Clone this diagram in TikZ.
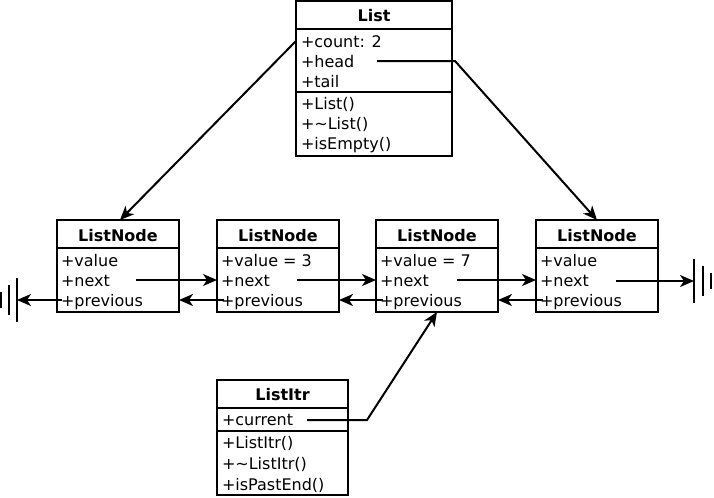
\documentclass[tikz,border=0pt]{standalone}
\usepackage{fontspec}
\setmainfont{DejaVu Sans}
\usetikzlibrary{arrows.meta}
\begin{document}
\begin{tikzpicture}[x=0.75pt,y=-0.75pt,line width=1.5pt,
  >={Stealth[length=10.5pt,width=9pt,inset=3pt]},
  umlbox/.style={draw,anchor=north west,inner sep=0pt,outer sep=0pt},
  txt/.style={anchor=base west,inner sep=0pt,font=\fontsize{12}{14}\selectfont},
  ttl/.style={anchor=base,inner sep=0pt,font=\fontsize{12}{14}\selectfont\bfseries}]
\useasboundingbox (0,0) rectangle (714,497);

% List class
\node[umlbox,minimum width=156*0.75pt,minimum height=155*0.75pt] (List) at (296,1) {};
\draw (296,29) -- (452,29);
\draw (296,92) -- (452,92);
\node[ttl] (Lt) at (374,21) {List};
\node[txt] (Lcount) at (300,47) {+count: 2};
\node[txt] (Lhead) at (300,67) {+head};
\node[txt] (Ltail) at (300,87) {+tail};
\node[txt] (Lm1) at (300,109) {+List()};
\node[txt] (Lm2) at (300,129) {+\textasciitilde List()};
\node[txt] (Lm3) at (300,149) {+isEmpty()};

% ListNode classes
\foreach \i/\x/\v in {1/57/{+value},2/217/{+value = 3},3/376/{+value = 7},4/536/{+value}}{
  \node[umlbox,minimum width=122*0.75pt,minimum height=92*0.75pt] (n\i) at (\x,220) {};
  \draw (\x,248) -- ++(122,0);
  \node[ttl] (n\i-t) at (\x+61,241) {ListNode};
  \node[txt] (n\i-v) at (\x+3,266) {\v};
  \node[txt] (n\i-n) at (\x+3,286) {+next};
  \node[txt] (n\i-p) at (\x+3,306) {+previous};
}

% ListItr class
\node[umlbox,minimum width=131*0.75pt,minimum height=115*0.75pt] (It) at (217,380) {};
\draw (217,408) -- (348,408);
\draw (217,431) -- (348,431);
\node[ttl] (It-t) at (282.5,400) {ListItr};
\node[txt] (It-c) at (221,425) {+current};
\node[txt] (It-m1) at (221,448) {+ListItr()};
\node[txt] (It-m2) at (221,469) {+\textasciitilde ListItr()};
\node[txt] (It-m3) at (221,490) {+isPastEnd()};

% connector start points
\coordinate (Ls) at (296,41);
\coordinate (Hs) at (377,61);
\coordinate (Hb) at (455,61);
\coordinate (Cs) at (307,420);
\coordinate (Cb) at (367,420);
\coordinate (n1ns) at (136,280);
\coordinate (n2ns) at (297,280);
\coordinate (n3ns) at (457,280);
\coordinate (n4ns) at (616,281);
\coordinate (n1ps) at (62,300);
\coordinate (n2ps) at (224,300);
\coordinate (n3ps) at (383,300);
\coordinate (n4ps) at (543,300);
\coordinate (gL) at (17,300);
\coordinate (gR) at (694,281);

% connectors
\draw[->] (Ls) -- ([xshift=1.5pt]n1.north);
\draw[->] (Hs) -- (Hb) -- (n4.north);
\draw[->] (Cs) -- (Cb) -- (n3.south);
\draw[->] (n1ns) -- (n2.west |- n1ns);
\draw[->] (n2ns) -- (n3.west |- n2ns);
\draw[->] (n3ns) -- (n4.west |- n3ns);
\draw[->] (n4ns) -- (gR);
\draw[->] (n1ps) -- (gL);
\draw[->] (n2ps) -- (n1.east |- n2ps);
\draw[->] (n3ps) -- (n2.east |- n3ps);
\draw[->] (n4ps) -- (n3.east |- n4ps);

% ground symbols
\draw (gL) ++(0,-22) -- ++(0,44);
\draw (gL) ++(-8,-15) -- ++(0,30);
\draw (gL) ++(-16,-8) -- ++(0,16);
\draw (gR) ++(0,-22) -- ++(0,44);
\draw (gR) ++(8.5,-15) -- ++(0,30);
\draw (gR) ++(17,-8) -- ++(0,16);
\end{tikzpicture}
\end{document}
